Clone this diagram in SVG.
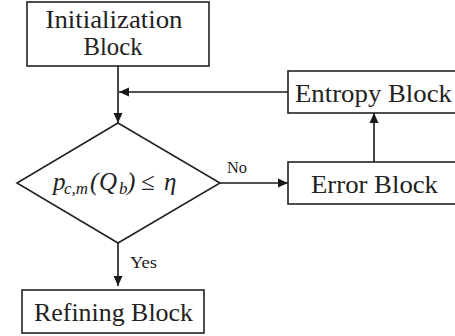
<svg xmlns="http://www.w3.org/2000/svg" width="455" height="336" viewBox="0 0 455 336">
  <style>
    .box { fill: #ffffff; stroke: #222222; stroke-width: 1.6; }
    .lbl { font-family: "Liberation Serif", "DejaVu Serif", serif; font-size: 26px; fill: #222222; text-anchor: middle; }
    .small { font-family: "Liberation Serif", "DejaVu Serif", serif; font-size: 16px; fill: #222222; }
    .math { font-family: "Liberation Serif", "DejaVu Serif", serif; fill: #222222; font-style: italic; }
    .edge { fill: none; stroke: #1a1a1a; stroke-width: 1.6; }
  </style>
  <defs>
    <marker id="arrow" viewBox="0 0 10 10" refX="10" refY="5" markerWidth="10" markerHeight="10" markerUnits="userSpaceOnUse" orient="auto">
      <path d="M0,0.5 L10,5 L0,9.5 Z" fill="#1a1a1a"/>
    </marker>
  </defs>
  <rect width="455" height="336" fill="#ffffff"/>

  <!-- flow lines and branch labels -->
  <g id="connectors">
    <line class="edge" x1="118" y1="66" x2="118" y2="123" marker-end="url(#arrow)"/>
    <line class="edge" x1="288" y1="92" x2="119" y2="92" marker-end="url(#arrow)"/>
    <line class="edge" x1="220" y1="183" x2="288" y2="183" marker-end="url(#arrow)"/>
    <line class="edge" x1="374" y1="162" x2="374" y2="113" marker-end="url(#arrow)"/>
    <line class="edge" x1="118" y1="243" x2="118" y2="286" marker-end="url(#arrow)"/>
    <text class="small" x="227" y="173" textLength="20" lengthAdjust="spacingAndGlyphs">No</text>
    <text class="small" x="130" y="268" textLength="27" lengthAdjust="spacingAndGlyphs">Yes</text>
  </g>

  <g id="init">
    <rect class="box" x="27" y="2" width="182" height="64"/>
    <text class="lbl" x="114" y="28" textLength="137" lengthAdjust="spacingAndGlyphs">Initialization</text>
    <text class="lbl" x="113" y="55" textLength="59" lengthAdjust="spacingAndGlyphs">Block</text>
  </g>

  <g id="decision">
    <polygon class="box" points="118,123 220,183 118,243 17,183"/>
    <text class="math" x="53" y="190" font-size="25">p</text>
    <text class="math" x="64" y="194" font-size="17" textLength="24" lengthAdjust="spacingAndGlyphs">c,m</text>
    <text class="math" x="90" y="190" font-size="25" font-style="normal">(</text>
    <text class="math" x="99" y="190" font-size="25">Q</text>
    <text class="math" x="119" y="194" font-size="17">b</text>
    <text class="math" x="127" y="190" font-size="25" font-style="normal">)</text>
    <text class="math" x="141" y="190" font-size="25" font-style="normal">≤</text>
    <text class="math" x="164" y="190" font-size="25">η</text>
  </g>

  <g id="entropy">
    <rect class="box" x="288" y="71" width="170" height="42"/>
    <text class="lbl" x="373.5" y="102" textLength="157" lengthAdjust="spacingAndGlyphs">Entropy Block</text>
  </g>

  <g id="error">
    <rect class="box" x="288" y="162" width="170" height="42"/>
    <text class="lbl" x="374.5" y="193" textLength="127" lengthAdjust="spacingAndGlyphs">Error Block</text>
  </g>

  <g id="refining">
    <rect class="box" x="22" y="290" width="182" height="43"/>
    <text class="lbl" x="113.5" y="321" textLength="159" lengthAdjust="spacingAndGlyphs">Refining Block</text>
  </g>
</svg>
